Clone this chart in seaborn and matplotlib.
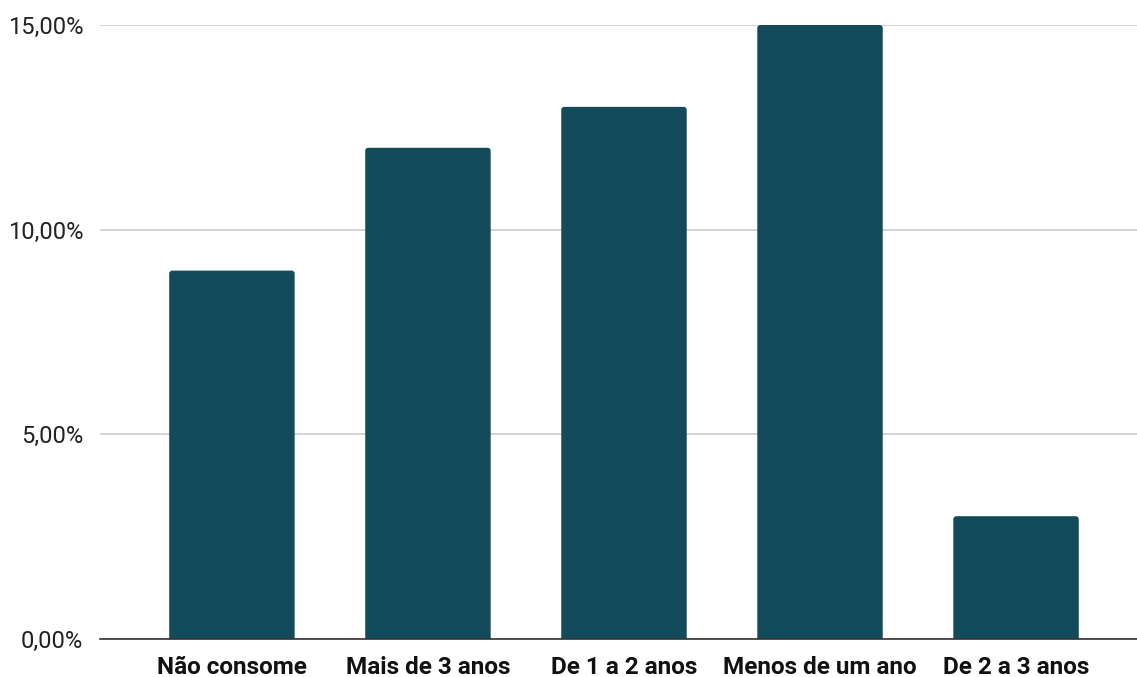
import matplotlib
matplotlib.use("Agg")
import matplotlib.pyplot as plt
import seaborn as sns
import pandas as pd
from matplotlib.patches import FancyBboxPatch
from matplotlib.ticker import FuncFormatter

categories = ["Não consome", "Mais de 3 anos", "De 1 a 2 anos", "Menos de um ano", "De 2 a 3 anos"]
shares = [0.09, 0.12, 0.13, 0.15, 0.03]
y_ticks = [0.0, 0.05, 0.10, 0.15]

df = pd.DataFrame({"categoria": categories, "valor": shares})

sns.set_theme(style="white")
plt.rcParams["font.family"] = ["Roboto", "DejaVu Sans"]

fig = plt.figure(figsize=(11.37, 6.77), dpi=100)
ax = fig.add_axes([100 / 1137, 38 / 677, 1037 / 1137, 614 / 677])

bar_color = "#134B5A"
sns.barplot(data=df, x="categoria", y="valor", color=bar_color, saturation=1,
            width=0.64, linewidth=0, ax=ax, zorder=3)

ax.set_xlim(-0.673, 4.617)
ax.set_ylim(0, 0.15)

# give each bar slightly rounded top corners (~3 px)
px_x = (4.617 + 0.673) / 1037
px_y = 0.15 / 614
r_x = 3 * px_x
aspect = px_y / px_x
for bar in list(ax.patches):
    x0, w, h = bar.get_x(), bar.get_width(), bar.get_height()
    rounded = FancyBboxPatch((x0, -3 * px_y), w, h + 3 * px_y,
                             boxstyle=f"round,pad=0,rounding_size={r_x}",
                             mutation_aspect=aspect, facecolor=bar_color,
                             linewidth=0, zorder=3)
    ax.add_patch(rounded)
    bar.set_visible(False)

ax.set_yticks(y_ticks)
ax.yaxis.set_major_formatter(FuncFormatter(lambda v, _: f"{v*100:.2f}%".replace(".", ",")))
ax.grid(axis="y", color="#cccccc", linewidth=1.2, zorder=0)
ax.set_axisbelow(True)

for s in ["top", "right", "left"]:
    ax.spines[s].set_visible(False)
ax.spines["bottom"].set_color("#333333")
ax.spines["bottom"].set_linewidth(1.2)
ax.spines["bottom"].set_zorder(4)

ax.tick_params(axis="both", length=0)
ax.tick_params(axis="y", labelsize=17, labelcolor="#222222", pad=12)
ax.tick_params(axis="x", labelsize=17.5, labelcolor="#111111", pad=12)
for lbl in ax.get_xticklabels():
    lbl.set_fontweight("bold")
ax.set_xlabel("")
ax.set_ylabel("")

fig.savefig("out.png", dpi=100, facecolor="white")
